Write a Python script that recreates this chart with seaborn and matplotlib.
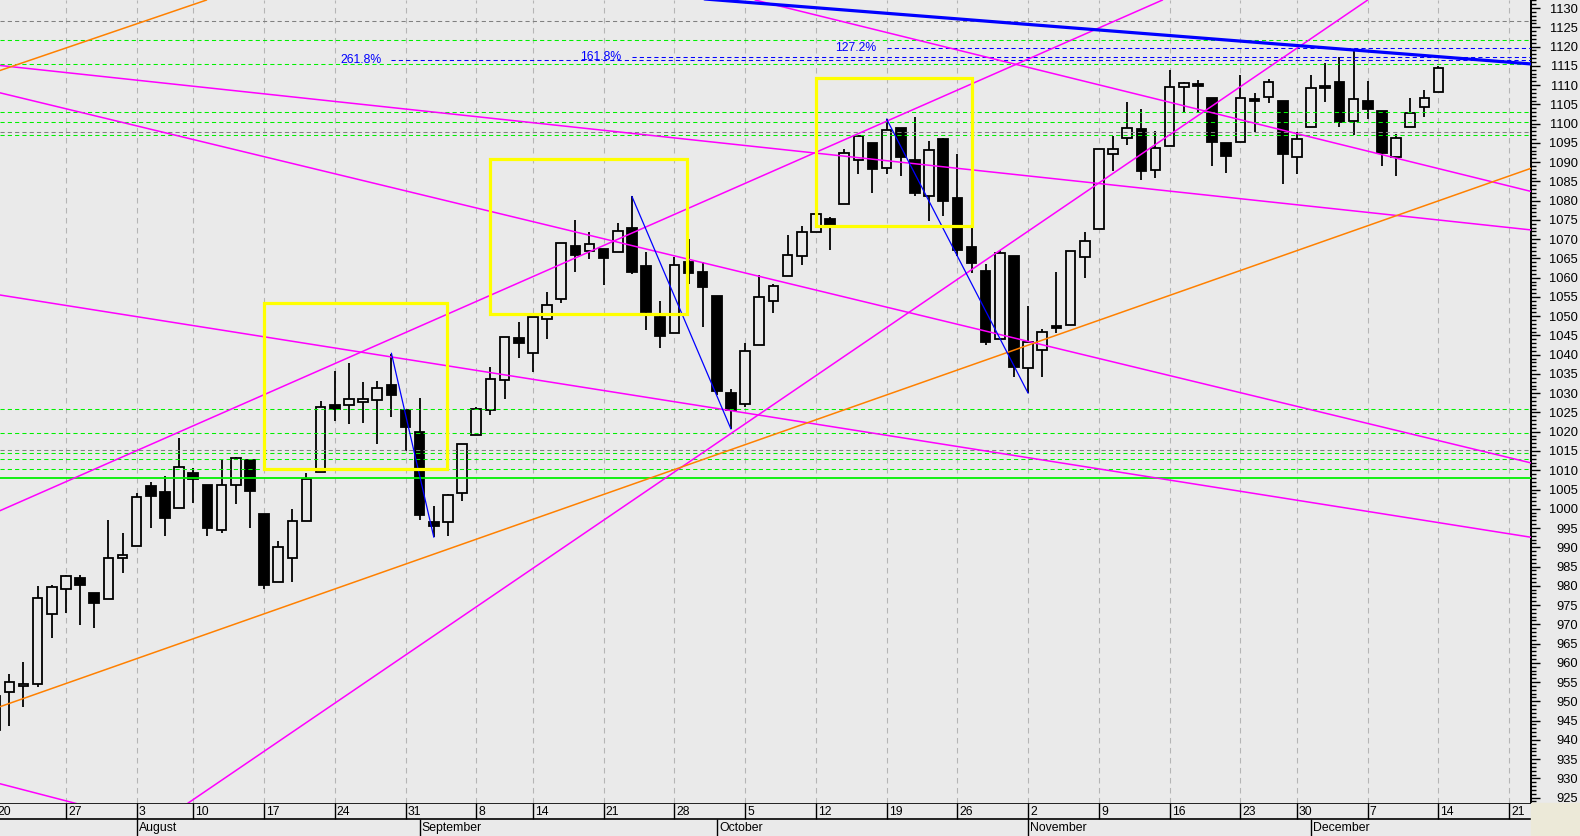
import numpy as np
import pandas as pd
import matplotlib
matplotlib.use("Agg")
import matplotlib.pyplot as plt
import seaborn as sns
from matplotlib.patches import Rectangle
from matplotlib.ticker import MultipleLocator, FixedLocator

# one bar per trading day, bar 0 = 20 July
opens = [942.6, 952.4, 953.9, 954.4, 972.6, 979.1, 982.0, 978.1, 976.5, 987.2,
         990.4, 1005.9, 1004.4, 1000.1, 1009.2, 1006.1, 994.4, 1006.1, 1012.7, 998.6,
         980.9, 987.2, 996.8, 1009.5, 1027.0, 1026.9, 1027.7, 1028.2, 1032.1, 1025.7,
         1019.9, 996.5, 996.5, 1004.2, 1019.2, 1025.7, 1033.4, 1044.3, 1040.4, 1049.2,
         1054.4, 1068.2, 1066.9, 1067.4, 1066.6, 1072.9, 1063.0, 1049.8, 1045.6, 1064.1,
         1061.4, 1055.2, 1030.0, 1027.2, 1042.5, 1053.9, 1060.4, 1065.6, 1071.9, 1075.3,
         1079.1, 1090.5, 1095.0, 1088.4, 1098.8, 1090.6, 1081.2, 1096.1, 1080.7, 1068.0,
         1061.8, 1044.0, 1065.7, 1036.5, 1041.2, 1047.5, 1047.7, 1065.3, 1072.6, 1092.1,
         1096.2, 1098.6, 1087.9, 1094.3, 1109.5, 1110.2, 1106.7, 1094.9, 1095.1, 1106.3,
         1106.9, 1105.9, 1091.3, 1099.1, 1109.6, 1110.8, 1100.6, 1105.9, 1103.2, 1091.3,
         1099.1, 1104.3, 1108.2]
highs = [951.8, 957.1, 960.2, 980.0, 980.3, 982.9, 982.8, 978.1, 997.1, 993.7,
         1004.0, 1007.0, 1008.5, 1018.4, 1010.6, 1006.1, 1013.0, 1013.4, 1012.9, 998.6,
         991.7, 999.9, 1009.2, 1027.9, 1035.8, 1037.8, 1033.0, 1033.3, 1040.2, 1025.7,
         1028.8, 1000.7, 1003.8, 1016.8, 1026.4, 1036.8, 1044.6, 1048.4, 1049.7, 1056.3,
         1069.0, 1074.9, 1071.8, 1067.4, 1074.2, 1081.1, 1066.6, 1053.9, 1065.4, 1070.1,
         1064.1, 1055.2, 1031.1, 1043.1, 1060.7, 1058.4, 1071.1, 1073.5, 1079.0, 1075.8,
         1093.4, 1096.7, 1095.0, 1101.2, 1098.8, 1101.8, 1095.5, 1096.2, 1092.2, 1072.9,
         1063.6, 1067.2, 1065.7, 1052.7, 1046.7, 1061.6, 1066.9, 1071.8, 1093.4, 1096.8,
         1105.6, 1103.8, 1098.0, 1114.0, 1110.9, 1111.4, 1106.7, 1094.9, 1112.6, 1107.9,
         1111.5, 1105.9, 1097.7, 1112.6, 1115.7, 1117.4, 1118.9, 1111.1, 1103.2, 1097.3,
         1106.6, 1108.8, 1115.0]
lows = [941.0, 943.7, 948.4, 953.8, 966.5, 972.9, 969.9, 969.1, 976.5, 983.4,
        990.4, 994.9, 993.0, 1000.1, 1001.6, 993.0, 993.8, 1001.3, 995.1, 979.1,
        980.9, 981.1, 996.8, 1009.5, 1022.9, 1022.0, 1022.2, 1016.8, 1023.8, 1015.1,
        997.1, 992.6, 992.8, 1002.1, 1019.2, 1024.4, 1028.6, 1039.1, 1035.6, 1044.0,
        1053.4, 1061.6, 1064.8, 1058.0, 1066.6, 1060.9, 1046.3, 1041.7, 1045.6, 1058.3,
        1047.2, 1029.6, 1020.7, 1026.5, 1042.5, 1050.7, 1060.4, 1063.4, 1071.9, 1067.1,
        1079.1, 1086.8, 1081.9, 1087.0, 1086.5, 1081.3, 1074.8, 1075.9, 1065.7, 1061.1,
        1042.6, 1044.0, 1034.2, 1030.0, 1034.3, 1045.6, 1047.7, 1059.8, 1072.6, 1087.7,
        1094.4, 1085.4, 1085.8, 1094.3, 1102.7, 1102.7, 1088.9, 1087.3, 1095.1, 1097.8,
        1105.3, 1084.2, 1086.8, 1099.1, 1105.7, 1099.2, 1097.1, 1101.2, 1089.1, 1086.3,
        1099.1, 1101.8, 1108.2]
closes = [951.4, 955.0, 954.4, 976.8, 979.6, 982.5, 980.1, 975.6, 987.2, 988.0,
          1003.0, 1003.2, 997.7, 1010.8, 1007.7, 994.9, 1006.1, 1013.1, 1004.7, 980.3,
          990.0, 996.8, 1007.7, 1026.4, 1026.0, 1028.5, 1028.5, 1031.3, 1029.5, 1021.2,
          998.5, 995.4, 1003.5, 1016.8, 1025.9, 1033.7, 1044.6, 1043.1, 1049.7, 1052.9,
          1069.0, 1066.0, 1068.7, 1065.2, 1072.1, 1061.4, 1051.2, 1044.9, 1063.3, 1061.1,
          1057.5, 1030.5, 1025.7, 1040.9, 1054.9, 1057.8, 1065.8, 1071.9, 1076.5, 1073.5,
          1092.3, 1096.7, 1088.1, 1098.3, 1091.4, 1081.9, 1093.2, 1080.0, 1067.3, 1063.9,
          1043.2, 1066.5, 1036.7, 1043.3, 1045.9, 1047.0, 1066.9, 1069.5, 1093.4, 1093.4,
          1098.8, 1087.6, 1093.6, 1109.5, 1110.5, 1109.8, 1095.3, 1091.7, 1106.6, 1106.0,
          1110.8, 1092.0, 1096.0, 1109.2, 1109.2, 1100.4, 1106.4, 1103.8, 1092.5, 1096.2,
          1102.7, 1106.6, 1114.4]

# week starts (bar index) and the day printed under them
week_pos = [0, 5, 10, 14, 19, 24, 29, 34, 38, 43, 48, 53, 58, 63, 68, 73, 78, 83, 88, 92, 97, 102, 107]
week_lbl = ["20", "27", "3", "10", "17", "24", "31", "8", "14", "21", "28", "5",
            "12", "19", "26", "2", "9", "16", "23", "30", "7", "14", "21"]
month_pos = [10, 30, 51, 73, 93]
month_lbl = ["August", "September", "October", "November", "December"]

# horizontal levels
green_levels = [1121.7, 1115.4, 1103.1, 1100.4, 1097.0, 1025.9, 1019.6, 1014.4, 1012.9, 1010.3]
gray_levels = [1126.7, 1097.7, 1015.2]
solid_level = 1007.9
fib_lbl = ["261.8%", "161.8%", "127.2%"]
fib_from = [28, 45, 63]
fib_level = [1116.4, 1117.4, 1119.6]

# drawn lines as (x0, y0, x1, y1) in bar index / price
magenta = [(0.34, 999.5, 82.5, 1132.1),
           (13.6, 923.5, 97.0, 1132.1),
           (0.34, 1115.1, 108.54, 1072.4),
           (0.34, 1108.0, 108.54, 1011.9),
           (0.34, 1055.5, 108.54, 992.6),
           (53.7, 1132.1, 108.54, 1082.4),
           (0.34, 928.6, 8.0, 921.3)]
orange = [(0.34, 1113.8, 14.94, 1132.1),
          (0.34, 948.6, 108.54, 1088.4)]
zigzag = [(28, 1040.4, 31, 992.6),
          (45, 1081.1, 52, 1020.7),
          (63, 1101.2, 73, 1030.0)]
blue_trend = [(50, 1132.4, 108.54, 1115.5)]
boxes = [(19.0, 1010.3, 31.9, 1053.4),
         (35.0, 1050.5, 48.9, 1090.9),
         (58.0, 1073.3, 69.0, 1111.9)]

BG = "#EAEAEA"
XMIN, XMAX = 0.34, 108.54
YMIN, YMAX = 923.6, 1132.1

sns.set_theme(style="white")
plt.rcParams['font.family'] = ['Liberation Sans', 'DejaVu Sans']
plt.rcParams['text.color'] = 'black'

fig = plt.figure(figsize=(15.8, 8.36), dpi=100, facecolor=BG)
ax = fig.add_axes([0, 33 / 836, 1531 / 1580, 803 / 836], facecolor=BG)

# week grid
ax.vlines(week_pos, YMIN, YMAX, colors="#B5B5B5", linewidth=0.8,
          linestyles=(0, (5, 4)), zorder=1)

# candles
x = np.arange(len(opens))
o = np.array(opens)
c = np.array(closes)
ax.vlines(x, lows, highs, colors="black", linewidth=1.3, zorder=2)
bottom = np.minimum(o, c)
height = np.maximum(np.abs(c - o), 0.45)
fill = np.where(c < o, "black", BG)
ax.bar(x, height, bottom=bottom, width=0.68, color=fill, edgecolor="black",
       linewidth=1.3, zorder=3)

# levels
ax.hlines(green_levels, XMIN, XMAX, colors="#00F000", linewidth=0.75,
          linestyles=(0, (4, 3)), zorder=4)
ax.hlines(gray_levels, XMIN, XMAX, colors="#808080", linewidth=0.75,
          linestyles=(0, (4, 3)), zorder=4)
ax.axhline(solid_level, color="#00F000", linewidth=1.3, zorder=4)
ax.hlines(fib_level, fib_from, XMAX, colors="blue", linewidth=0.75,
          linestyles=(0, (4, 3)), zorder=4)
for xs, lv, lb in zip(fib_from, fib_level, fib_lbl):
    ax.text(xs - 0.72, lv, lb, ha="right", va="center", color="blue", fontsize=8.8, zorder=7)


def seg_frame(segs):
    rows = []
    for k, (x0, y0, x1, y1) in enumerate(segs):
        rows.append({"x": x0, "y": y0, "seg": k})
        rows.append({"x": x1, "y": y1, "seg": k})
    return pd.DataFrame(rows)


sns.lineplot(data=seg_frame(magenta), x="x", y="y", units="seg", estimator=None,
             sort=False, color="#FF00FF", linewidth=1.1, ax=ax, legend=False, zorder=5)
sns.lineplot(data=seg_frame(orange), x="x", y="y", units="seg", estimator=None,
             sort=False, color="#FF8000", linewidth=1.1, ax=ax, legend=False, zorder=5)
sns.lineplot(data=seg_frame(zigzag), x="x", y="y", units="seg", estimator=None,
             sort=False, color="#0000FF", linewidth=0.9, ax=ax, legend=False, zorder=5)
sns.lineplot(data=seg_frame(blue_trend), x="x", y="y", units="seg", estimator=None,
             sort=False, color="#0000FF", linewidth=2.3, ax=ax, legend=False, zorder=5)

for x0, y0, x1, y1 in boxes:
    ax.add_patch(Rectangle((x0, y0), x1 - x0, y1 - y0, fill=False,
                           edgecolor="#FFFF00", linewidth=2.3, zorder=6))

ax.set_xlim(XMIN, XMAX)
ax.set_ylim(YMIN, YMAX)
ax.set_xlabel("")
ax.set_ylabel("")
ax.set_xticks([])
for s in ["top", "left", "bottom"]:
    ax.spines[s].set_visible(False)
ax.spines["right"].set_color("black")
ax.spines["right"].set_linewidth(1.4)
ax.yaxis.tick_right()
ax.yaxis.set_major_locator(FixedLocator(np.arange(925, 1131, 5)))
ax.yaxis.set_minor_locator(MultipleLocator(1))
ax.tick_params(axis="y", which="major", length=6.5, width=1.0, color="black",
               labelsize=9.3, labelcolor="black", pad=27.2, direction="out")
ax.tick_params(axis="y", which="minor", length=3.6, width=1.0, color="black", direction="out")
for t in ax.get_yticklabels():
    t.set_horizontalalignment("right")

# date band
axb = fig.add_axes([0, 0, 1531 / 1580, 33 / 836], facecolor=BG)
axb.set_xlim(XMIN, XMAX)
axb.set_ylim(0, 33)
axb.axis("off")
axb.axhline(32.6, color="black", linewidth=1.2)
axb.axhline(16.7, color="black", linewidth=1.2)
axb.vlines(week_pos, 16.7, 33, colors="black", linewidth=1.0)
axb.vlines(month_pos, 0, 16.7, colors="black", linewidth=1.0)
for p, lb in zip(week_pos, week_lbl):
    axb.text(p + 0.15, 24.4, lb, ha="left", va="center", fontsize=8.8, color="black")
for p, lb in zip(month_pos, month_lbl):
    axb.text(p + 0.15, 8.0, lb, ha="left", va="center", fontsize=8.8, color="black")

fig.patches.append(Rectangle((1531 / 1580, 0), 49 / 1580, 33 / 836,
                             transform=fig.transFigure, color="#ECE9D8", zorder=0))

fig.savefig("out.png", dpi=100, facecolor=BG)
